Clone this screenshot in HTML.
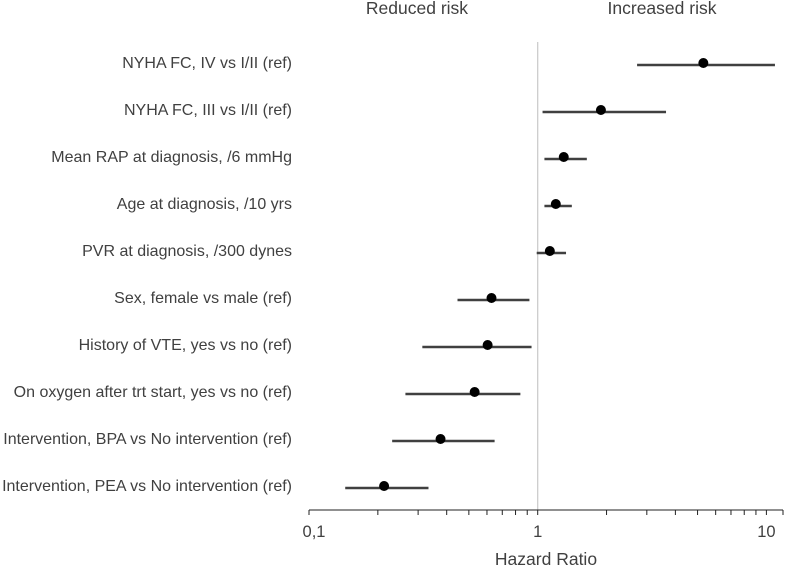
<!DOCTYPE html>
<html><head><meta charset="utf-8"><style>
body{margin:0;background:#fff;}
svg{display:block;font-family:"Liberation Sans",sans-serif;}
</style></head><body>
<svg id="chart" width="785" height="566">
<text x="417" y="14" text-anchor="middle" font-size="17.5" fill="#404040">Reduced risk</text>
<text x="662" y="14" text-anchor="middle" font-size="17.5" fill="#404040">Increased risk</text>
<text x="546" y="565" text-anchor="middle" font-size="17.5" fill="#404040">Hazard Ratio</text>
<g id="g"></g>
</svg>
<script>
const labels=["NYHA FC,  IV vs I/II (ref)","NYHA FC,  III vs I/II (ref)","Mean RAP at diagnosis, /6 mmHg","Age at diagnosis, /10 yrs","PVR at diagnosis, /300 dynes","Sex, female vs male (ref)","History of VTE, yes vs no (ref)","On oxygen after trt start, yes vs no (ref)","Intervention, BPA vs No intervention (ref)","Intervention, PEA vs No intervention (ref)"];
const hr=[5.3,1.89,1.30,1.20,1.13,0.628,0.604,0.53,0.376,0.213];
const lo=[2.72,1.05,1.07,1.07,0.99,0.446,0.313,0.264,0.231,0.144];
const hi=[10.9,3.64,1.64,1.41,1.33,0.92,0.94,0.84,0.648,0.333];
const tickLabels=["0,1","1","10"];
const tickVals=[0.1,1,10];
const NS="http://www.w3.org/2000/svg";
const g=document.getElementById('g');
const x=v=>537.7+228.7*Math.log10(v);
const y=i=>63+47*i;
function mk(t,a){const e=document.createElementNS(NS,t);for(const k in a)e.setAttribute(k,a[k]);g.appendChild(e);return e;}
let e=mk('line',{x1:x(1),x2:x(1),y1:42,y2:510,stroke:'#c8c8c8','stroke-width':1.2});


e=mk('line',{x1:x(0.1),x2:783,y1:510,y2:510,stroke:'#222','stroke-width':1});


for(let d=0.1;d<=10;d*=10){for(let m=1;m<10;m++){const v=d*m;const px=x(v);if(px>784)continue;
e=mk('line',{x1:px,x2:px,y1:510,y2:515,stroke:'#222','stroke-width':1});

}}
e=mk('line',{x1:783,x2:783,y1:510,y2:515,stroke:'#222'});


tickVals.forEach((v,i)=>{e=mk('text',{x:x(v)+(i==0?5:0),y:537,'text-anchor':'middle','font-size':16.5,fill:'#404040'});e.textContent=tickLabels[i];

});
labels.forEach((l,i)=>{
e=mk('text',{x:292,y:y(i)+5,'text-anchor':'end','font-size':14,fill:'#404040',textLength:0});e.removeAttribute('textLength');
e.setAttribute('font-size','16');
e.textContent=l;


e=mk('line',{x1:x(lo[i]),x2:x(hi[i]),y1:y(i)+2,y2:y(i)+2,stroke:'#404040','stroke-width':2.6});


e=mk('circle',{cx:x(hr[i]),cy:y(i),r:5,fill:'#000'});


});
</script>
</body></html>
